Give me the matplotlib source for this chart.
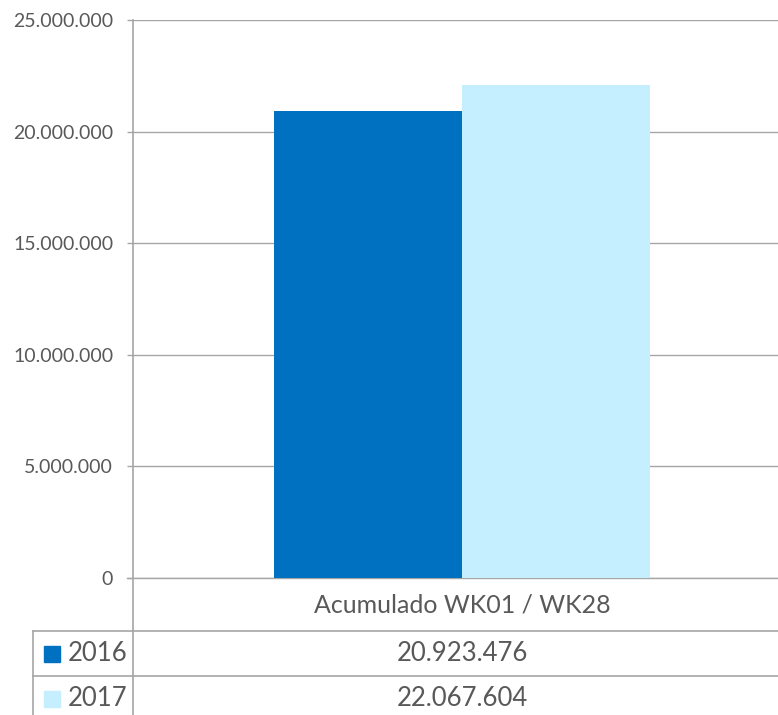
import matplotlib
matplotlib.use("Agg")
import matplotlib.pyplot as plt
from matplotlib.patches import Rectangle
from matplotlib.ticker import FuncFormatter, MultipleLocator

plt.rcParams["font.family"] = ["Lato", "DejaVu Sans"]

category = "Acumulado WK01 / WK28"
years = ["2016", "2017"]
values = [20923476, 22067604]
colors = ["#0070C0", "#C5EFFE"]

GRID = "#A6A6A6"
TEXT = "#595959"
W, H = 778, 715


def dots(v, pos=None):
    return f"{int(v):,}".replace(",", ".")


fig = plt.figure(figsize=(W / 100, H / 100), dpi=100)

# plot area in pixels: left 133, right 791 (clipped), top 20, bottom 578
ax = fig.add_axes([133 / W, 1 - 578 / H, 658 / W, 558 / H])
ax.patch.set_visible(False)
bar_w = 0.2857
for i, (y, v, c) in enumerate(zip(years, values, colors)):
    ax.bar((i - 0.5) * bar_w, v, width=bar_w, color=c, zorder=3)

ax.set_xlim(-0.5, 0.5)
ax.set_ylim(0, 25000000)
ax.yaxis.set_major_locator(MultipleLocator(5000000))
ax.yaxis.set_major_formatter(FuncFormatter(dots))
ax.grid(axis="y", color=GRID, lw=1.0, zorder=0)
ax.set_xticks([])
ax.tick_params(axis="y", length=4.3, width=1.0, color=GRID, labelcolor=TEXT,
               labelsize=14, pad=10)
for s in ["top", "right", "bottom", "left"]:
    ax.spines[s].set_visible(False)

# overlay in pixel coordinates for the data table
tab = fig.add_axes([0, 0, 1, 1], zorder=-1)
tab.set_xlim(0, W)
tab.set_ylim(H, 0)
tab.axis("off")

x_mid = 133 + 658 / 2
tab.plot([133, 133], [20, H], color=GRID, lw=1.2)
tab.plot([127, W], [578, 578], color=GRID, lw=1.0)
for yl in [631, 676]:
    tab.plot([33, W], [yl, yl], color=GRID, lw=1.2)
tab.plot([33, 33], [631, H], color=GRID, lw=1.2)

tab.text(x_mid, 605, category, ha="center", va="center", color=TEXT,
         fontsize=18)

row_mid = [653.5, 698.5]
for y, v, c, ym in zip(years, values, colors, row_mid):
    tab.add_patch(Rectangle((44, ym - 8), 16, 16, color=c))
    tab.text(68, ym, y, ha="left", va="center", color=TEXT, fontsize=18.5)
    tab.text(x_mid, ym, dots(v), ha="center", va="center", color=TEXT,
             fontsize=18.5)

fig.savefig("out.png", dpi=100)
